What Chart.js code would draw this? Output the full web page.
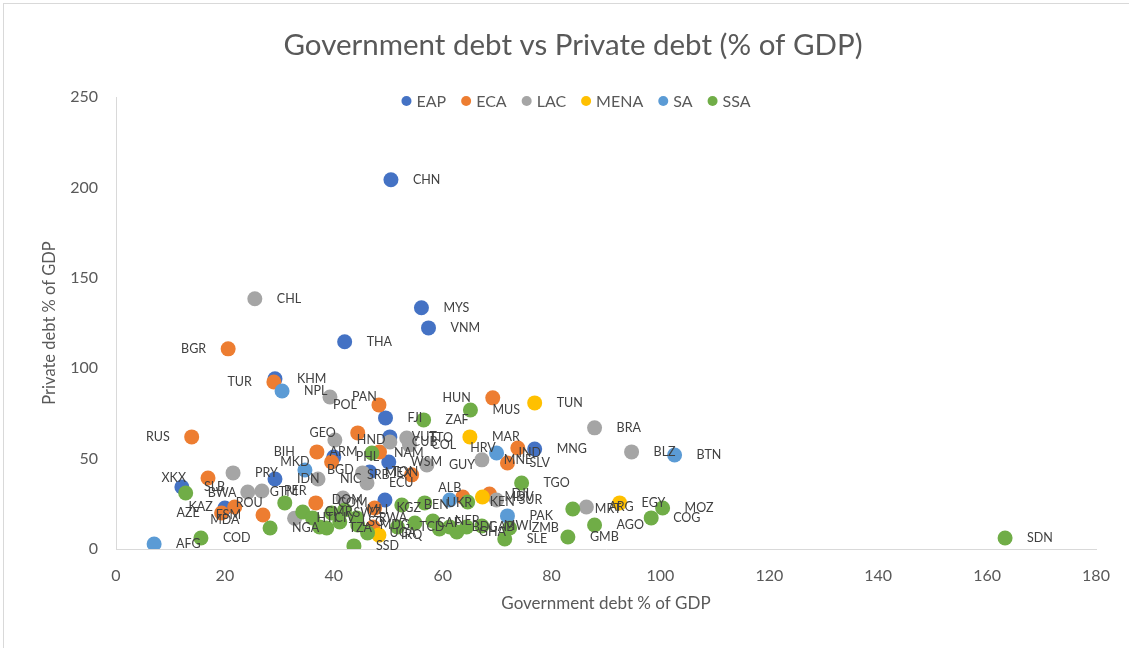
<!DOCTYPE html>
<html lang="en">
<head>
  <meta charset="UTF-8" />
  <title>Government debt vs Private debt</title>
  <script src="https://cdn.jsdelivr.net/npm/chart.js"></script>
  <style>
    html, body { margin: 0; padding: 0; background: #fff; }
    #frame { position: absolute; left: 3px; top: 3px; width: 1140px; height: 700px; border: 1px solid #d9d9d9; }
    #wrap { position: absolute; left: 0; top: 0; width: 1129px; height: 648px; }
  </style>
</head>
<body>
  <div id="frame"></div>
  <div id="wrap"><canvas id="debtChart"></canvas></div>

  <script>
    // government debt (x) and private debt (y), % of GDP, by region
    const eapCodes = ['CHN','MYS','VNM','THA','KHM','FJI','VUT','WSM','PHL','TON','MNG','IDN','SLB','MDA','DOM'];
    const eapGov   = [50.5, 56.1, 57.4, 42.0, 29.2, 49.5, 50.3, 50.1, 40.0, 46.6, 76.9, 29.2, 12.1, 20.0, 49.4];
    const eapPriv  = [204.2, 133.4, 122.3, 114.6, 94.1, 72.5, 62.0, 48.1, 50.9, 42.6, 55.3, 38.7, 34.3, 22.7, 27.1];

    const ecaCodes = ['BGR','TUR','POL','HUN','RUS','GEO','BIH','MKD','ARM','HRV','SLV','SRB','XKX','KAZ','AZE','FSM','COM','KGZ','','','DJI'];
    const ecaGov   = [20.6, 29.0, 48.3, 69.2, 13.9, 44.4, 36.9, 39.6, 48.4, 73.8, 71.9, 54.3, 16.9, 21.8, 19.4, 27.0, 36.7, 47.5, 47.2, 63.7, 68.6];
    const ecaPriv  = [110.7, 92.4, 79.7, 83.6, 62.0, 64.2, 53.7, 48.1, 53.7, 55.9, 47.6, 41.0, 39.3, 23.2, 19.9, 18.8, 25.5, 22.7, 12.2, 28.8, 30.4];

    const lacCodes = ['CHL','PAN','HND','CUB','TTO','COL','GUY','MNE','ECU','NIC','MEX','PRY','GTM','PER','HTI','','BRA','BLZ','ARG','SUR'];
    const lacGov   = [25.5, 39.3, 40.2, 50.3, 53.4, 53.9, 57.1, 67.2, 46.1, 37.1, 45.3, 21.5, 24.2, 26.8, 32.8, 41.7, 87.9, 94.7, 86.4, 69.9];
    const lacPriv  = [138.4, 84.1, 60.3, 59.2, 61.4, 57.6, 46.5, 49.3, 36.5, 38.7, 42.1, 42.1, 31.5, 32.1, 17.0, 28.2, 67.0, 53.7, 23.2, 27.1];

    const menaCodes = ['MAR','TUN','EGY','MDV','IRQ'];
    const menaGov   = [65.0, 76.9, 92.5, 67.3, 48.3];
    const menaPriv  = [62.0, 80.8, 25.5, 28.8, 7.7];

    const saCodes = ['NPL','BGD','IND','BTN','PAK','AFG','ALB'];
    const saGov   = [30.5, 34.7, 69.9, 102.6, 71.9, 7.0, 61.3];
    const saPriv  = [87.4, 43.7, 53.1, 52.0, 18.3, 2.8, 27.1];

    const ssaCodes = ['ZAF','MUS','NAM','TGO','BWA','ROU','NGA','COD','SSD','SDN','MRT','MOZ','COG','AGO','GMB','ZMB','SLE','KEN','UKR','BEN',
                      'CMR','CIV','','TZA','SWZ','LSO','MLI','RWA','MDG','UGA','TCD','CAF','NER','','BDI','GHA','GAB','MWI'];
    const ssaGov   = [56.5, 65.1, 47.0, 74.5, 12.8, 31.0, 28.3, 15.6, 43.7, 163.3, 83.9, 100.4, 98.3, 87.9, 83.0, 72.3, 71.4, 64.6, 56.7, 52.5,
                      34.3, 36.1, 37.4, 38.7, 39.6, 41.1, 42.0, 44.2, 44.4, 46.2, 51.7, 54.9, 58.2, 59.4, 61.3, 62.6, 64.4, 67.2];
    const ssaPriv  = [71.4, 76.9, 53.1, 36.5, 31.0, 25.5, 11.6, 6.1, 1.7, 6.1, 22.1, 22.7, 17.2, 13.3, 6.6, 11.6, 5.5, 26.0, 25.5, 24.3,
                      20.5, 17.2, 12.2, 11.6, 19.9, 14.9, 21.6, 17.2, 13.3, 8.9, 12.2, 14.4, 15.5, 11.1, 12.2, 9.4, 12.2, 12.7];

    // labels that sit somewhere other than to the right of their point
    const labelSide = {
      RUS: 'left', BGR: 'left', TUR: 'left', HUN: 'left', POL: 'left', GEO: 'left', BIH: 'left', MKD: 'left',
      ARM: 'left', HRV: 'left', SRB: 'left', XKX: 'left', KAZ: 'left', AZE: 'left', FSM: 'left', ROU: 'left',
      DOM: 'left', MDA: 'below', ALB: 'above'
    };

    const FONT = 'Lato, "Open Sans", sans-serif';
    const GREY = '#595959';
    const TITLE = 'Government debt vs Private debt (% of GDP)';

    function toPoints(codes, gov, priv) {
      return codes.map((c, i) => ({ x: gov[i], y: priv[i], code: c }));
    }

    function series(label, color, order, codes, gov, priv) {
      return {
        label: label,
        data: toPoints(codes, gov, priv),
        backgroundColor: color,
        borderColor: color,
        borderWidth: 0,
        pointRadius: 7.5,
        pointHoverRadius: 7.5,
        order: order
      };
    }

    const datasets = [
      series('EAP', '#4472C4', 6, eapCodes, eapGov, eapPriv),
      series('ECA', '#ED7D31', 5, ecaCodes, ecaGov, ecaPriv),
      series('LAC', '#A5A5A5', 4, lacCodes, lacGov, lacPriv),
      series('MENA', '#FFC000', 3, menaCodes, menaGov, menaPriv),
      series('SA', '#5B9BD5', 2, saCodes, saGov, saPriv),
      series('SSA', '#70AD47', 1, ssaCodes, ssaGov, ssaPriv)
    ];

    // country codes next to each point
    const pointLabels = {
      id: 'pointLabels',
      afterDatasetsDraw(chart) {
        const ctx = chart.ctx;
        ctx.save();
        ctx.font = '12.5px ' + FONT;
        ctx.fillStyle = '#404040';
        ctx.textBaseline = 'middle';
        chart.data.datasets.forEach((ds, di) => {
          const meta = chart.getDatasetMeta(di);
          meta.data.forEach((el, i) => {
            const code = ds.data[i].code;
            if (!code) return;
            const side = labelSide[code] || 'right';
            let x = el.x, y = el.y;
            if (side === 'left') { ctx.textAlign = 'right'; x -= 22; }
            else if (side === 'above') { ctx.textAlign = 'center'; y -= 12; }
            else if (side === 'below') { ctx.textAlign = 'center'; y += 12; }
            else { ctx.textAlign = 'left'; x += 22; }
            ctx.fillText(code, x, y);
          });
        });
        ctx.restore();
      }
    };

    // title and legend, placed like the original (legend sits inside the top of the plot)
    const titleAndLegend = {
      id: 'titleAndLegend',
      afterDraw(chart) {
        const ctx = chart.ctx;
        ctx.save();
        ctx.textBaseline = 'middle';
        ctx.textAlign = 'center';
        ctx.fillStyle = GREY;
        ctx.font = '29.5px ' + FONT;
        ctx.fillText(TITLE, 573, 45);

        ctx.font = '16px ' + FONT;
        const r = 5, gap = 5, space = 15;
        const items = chart.data.datasets.map(ds => ({ label: ds.label, color: ds.backgroundColor, w: ctx.measureText(ds.label).width }));
        const total = items.reduce((s, it) => s + 2 * r + gap + it.w, 0) + space * (items.length - 1);
        let x = 576 - total / 2;
        const y = 101;
        items.forEach(it => {
          ctx.fillStyle = it.color;
          ctx.beginPath();
          ctx.arc(x + r, y, r, 0, Math.PI * 2);
          ctx.fill();
          ctx.fillStyle = GREY;
          ctx.textAlign = 'left';
          ctx.fillText(it.label, x + 2 * r + gap, y + 1);
          x += 2 * r + gap + it.w + space;
        });
        ctx.restore();
      }
    };

    new Chart(document.getElementById('debtChart'), {
      type: 'scatter',
      data: { datasets: datasets },
      plugins: [pointLabels, titleAndLegend],
      options: {
        responsive: true,
        maintainAspectRatio: false,
        animation: false,
        layout: { padding: { left: 0, right: 33, top: 97, bottom: 0 } },
        plugins: {
          legend: { display: false },
          tooltip: { enabled: false },
          title: { display: false }
        },
        scales: {
          x: {
            type: 'linear',
            min: 0,
            max: 180,
            afterFit: s => { s.height = 99; },
            ticks: { stepSize: 20, color: GREY, font: { family: FONT, size: 16 }, padding: 17 },
            grid: { drawOnChartArea: false, drawTicks: false },
            border: { display: true, color: '#D9D9D9', width: 1 },
            title: {
              display: true,
              text: 'Government debt % of GDP',
              color: GREY,
              font: { family: FONT, size: 17 },
              padding: { top: 0, bottom: 34 }
            }
          },
          y: {
            min: 0,
            max: 250,
            afterFit: s => { s.width = 116; },
            ticks: { stepSize: 50, color: GREY, font: { family: FONT, size: 16 }, padding: 18 },
            grid: { drawOnChartArea: false, drawTicks: false },
            border: { display: true, color: '#D9D9D9', width: 1 },
            title: {
              display: true,
              text: 'Private debt % of GDP',
              color: GREY,
              font: { family: FONT, size: 16.5 },
              padding: { top: 40, bottom: 0 }
            }
          }
        }
      }
    });
  </script>
</body>
</html>
